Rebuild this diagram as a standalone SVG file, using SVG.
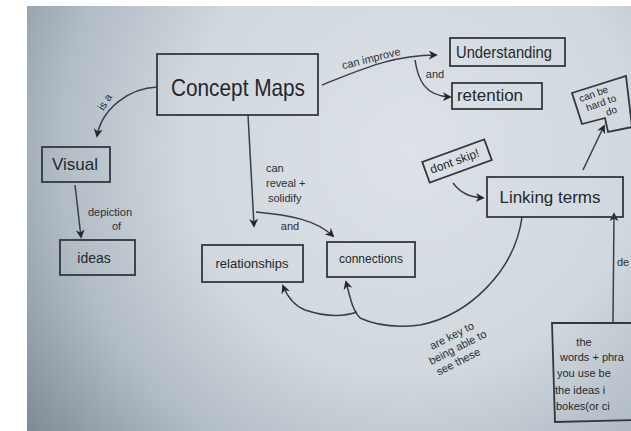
<svg xmlns="http://www.w3.org/2000/svg" width="631" height="431" viewBox="0 0 631 431">
<defs>
<radialGradient id="paper" gradientUnits="userSpaceOnUse" cx="410" cy="150" r="500">
<stop offset="0" stop-color="#dce2e7"/>
<stop offset="0.45" stop-color="#d1d8de"/>
<stop offset="0.7" stop-color="#b2bcc5"/>
<stop offset="1" stop-color="#75808b"/>
</radialGradient>
<marker id="ah" viewBox="0 0 10 10" refX="8" refY="5" markerWidth="9" markerHeight="9" markerUnits="userSpaceOnUse" orient="auto">
<path d="M0,0 L10,5 L0,10 L3,5 z" fill="#24282d"/>
</marker>
</defs>
<style>
.box{fill:none;stroke:#33383e;stroke-width:1.8}
.ln{fill:none;stroke:#3a3f45;stroke-width:1.5;marker-end:url(#ah)}
.pl{fill:none;stroke:#3a3f45;stroke-width:1.5}
.t{font-family:"Liberation Sans",Arial,sans-serif;fill:#24282d}
.lb{font-family:"Liberation Sans",Arial,sans-serif;fill:#2c3035;font-size:11px}
</style>
<rect x="0" y="0" width="631" height="431" fill="#ffffff"/>
<rect x="27" y="6" width="604" height="425" fill="url(#paper)"/>

<g id="connectors">
<path class="ln" d="M157,87 C130,88 102,108 97,136"/>
<path class="ln" d="M322,85 C360,70 392,55 436,55"/>
<path class="ln" d="M415,60 C418,80 425,96 450,97"/>
<path class="ln" d="M75,185 L81,237"/>
<path class="ln" d="M248,115 L254,226"/>
<path class="ln" d="M256,212 C290,215 316,220 333,236"/>
<path class="ln" d="M453,183 C460,192 468,197 483,198"/>
<path class="ln" d="M583,170 L604,126"/>
<path class="ln" d="M613,322 L614,214"/>
<path class="pl" d="M522,217 C515,270 470,315 420,325 C395,328 375,325 360,318"/>
<path class="ln" d="M360,318 C352,310 350,296 346,282"/>
<path class="ln" d="M357,312 C340,318 320,315 305,310 C295,306 288,298 283,286"/>
</g>

<g id="labels">
<text class="lb" transform="translate(108,104) rotate(-58)" text-anchor="middle">is a</text>
<text class="lb" transform="translate(372,62) rotate(-14)" text-anchor="middle" font-size="12">can improve</text>
<text class="lb" x="435" y="78" text-anchor="middle" font-size="9">and</text>
<text class="lb" x="88" y="216" font-size="12">depiction</text>
<text class="lb" x="112" y="230" font-size="11">of</text>
<text class="lb" x="266" y="172" font-size="12">can</text>
<text class="lb" x="266" y="187" font-size="12">reveal +</text>
<text class="lb" x="268" y="202" font-size="12">solidify</text>
<text class="lb" x="290" y="230" text-anchor="middle" font-size="11">and</text>
<g transform="translate(458,348) rotate(-27)">
<text class="lb" x="0" y="-10" text-anchor="middle" font-size="11">are key to</text>
<text class="lb" x="0" y="3" text-anchor="middle" font-size="11">being able to</text>
<text class="lb" x="-6" y="16" text-anchor="middle" font-size="11">see these</text>
</g>
<text class="lb" x="617" y="266" font-size="12">de</text>
</g>

<g id="concept-maps">
<rect class="box" x="157" y="54" width="161" height="61"/>
<text class="t" x="238" y="96" text-anchor="middle" font-size="24" textLength="134" lengthAdjust="spacingAndGlyphs">Concept Maps</text>
</g>
<g id="understanding">
<rect class="box" x="450" y="38" width="115" height="28"/>
<text class="t" x="504" y="58" text-anchor="middle" font-size="17" textLength="96" lengthAdjust="spacingAndGlyphs">Understanding</text>
</g>
<g id="retention">
<rect class="box" x="452" y="83" width="90" height="26"/>
<text class="t" x="490" y="101" text-anchor="middle" font-size="17">retention</text>
</g>
<g id="visual">
<rect class="box" x="42" y="147" width="68" height="35"/>
<text class="t" x="75" y="170" text-anchor="middle" font-size="17">Visual</text>
</g>
<g id="ideas">
<rect class="box" x="60" y="240" width="75" height="35"/>
<text class="t" x="94" y="263" text-anchor="middle" font-size="14">ideas</text>
</g>
<g id="relationships">
<rect class="box" x="202" y="245" width="101" height="37"/>
<text class="t" x="252" y="268" text-anchor="middle" font-size="13">relationships</text>
</g>
<g id="connections">
<rect class="box" x="327" y="242" width="88" height="35"/>
<text class="t" x="371" y="263" text-anchor="middle" font-size="12">connections</text>
</g>
<g id="dont-skip">
<rect class="box" x="-33" y="-11" width="66" height="22" transform="translate(457,161) rotate(-20)"/>
<text class="t" transform="translate(456,165) rotate(-20)" text-anchor="middle" font-size="12">dont skip!</text>
</g>
<g id="linking-terms">
<rect class="box" x="487" y="177" width="136" height="40"/>
<text class="t" x="550" y="203" text-anchor="middle" font-size="17">Linking terms</text>
</g>
<g id="hard-to-do">
<polygon class="box" points="572,93 626,76 632,127 608,132 605,118 582,124"/>
<g transform="translate(599,103) rotate(-20)">
<text class="t" x="-2" y="-7" text-anchor="middle" font-size="10">can be</text>
<text class="t" x="2" y="4" text-anchor="middle" font-size="10">hard to</text>
<text class="t" x="9" y="15" text-anchor="middle" font-size="10">do</text>
</g>
</g>
<g id="definition">
<polyline class="box" points="640,323 552,323 555,422 640,420"/>
<text class="t" x="584" y="346" text-anchor="middle" font-size="11">the</text>
<text class="t" x="560" y="361" font-size="11">words + phra</text>
<text class="t" x="557" y="377" font-size="11">you use be</text>
<text class="t" x="555" y="394" font-size="11">the ideas i</text>
<text class="t" x="556" y="410" font-size="11">bokes(or ci</text>
</g>
</svg>
